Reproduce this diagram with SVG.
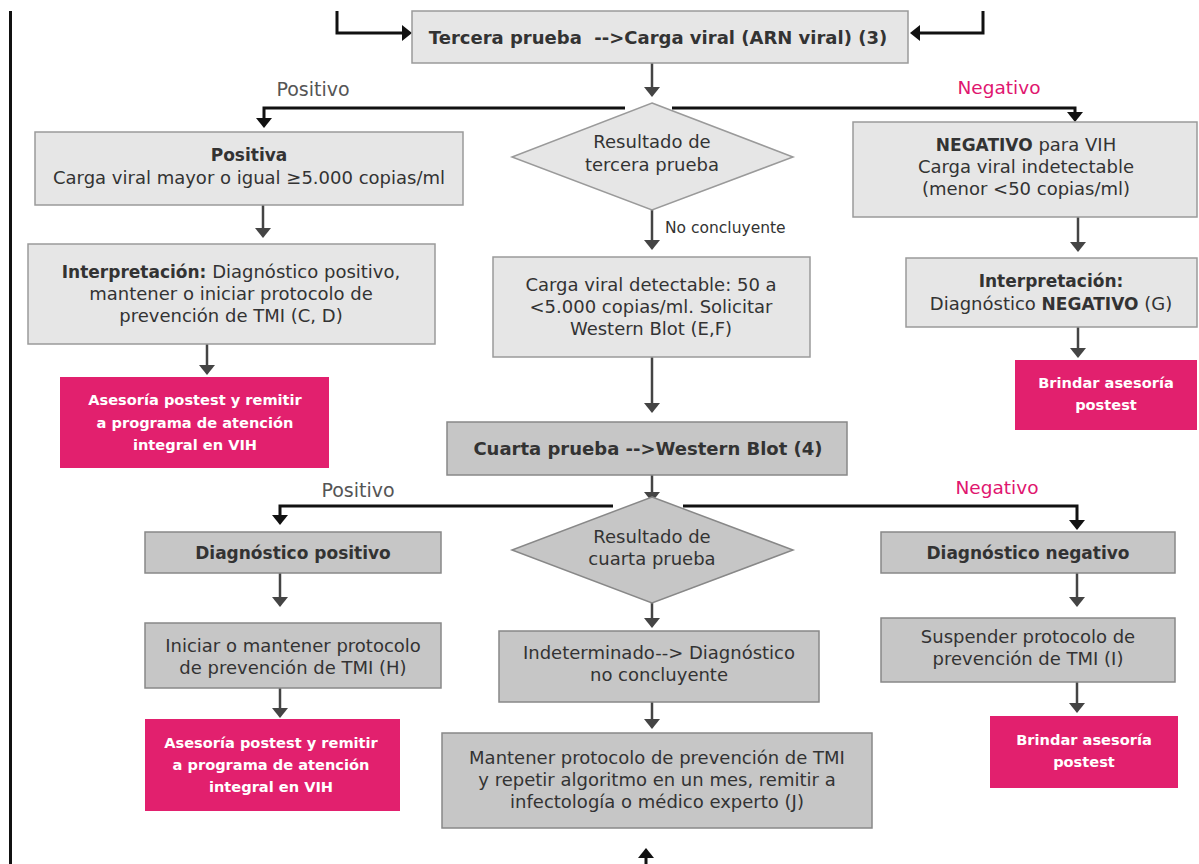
<svg xmlns="http://www.w3.org/2000/svg" width="1199" height="864" viewBox="0 0 1199 864">
  <defs>
    <style>
      text { font-family: "DejaVu Sans", "Open Sans", sans-serif; font-size: 18px; fill: #333; text-anchor: middle; }
      .b { font-weight: bold; font-size: 17px; }
      .big { font-size: 18px; font-weight: bold; }
      .wt { fill: #fff; font-size: 14.6px; font-weight: bold; }
      .lbl { font-size: 19px; fill: #555; }
      .neg { font-size: 18.5px; fill: #e0166f; }
      .sm { font-size: 15.5px; text-anchor: start; }
      .light { fill: #e6e6e6; stroke: #9a9a9a; stroke-width: 1.5; }
      .dark { fill: #c6c6c6; stroke: #888; stroke-width: 1.5; }
      .pink { fill: #e2206e; }
      .flow { fill: none; stroke: #444; stroke-width: 2.5; marker-end: url(#ah-gray); }
      .branch { fill: none; stroke: #111; stroke-width: 3; marker-end: url(#ah-black); }
    </style>
    <marker id="ah-gray" viewBox="0 0 10 16" refX="2" refY="8" markerWidth="10" markerHeight="16" markerUnits="userSpaceOnUse" orient="auto">
      <path d="M0,0 L10,8 L0,16 z" fill="#444"/>
    </marker>
    <marker id="ah-black" viewBox="0 0 10 16" refX="2" refY="8" markerWidth="10" markerHeight="16" markerUnits="userSpaceOnUse" orient="auto">
      <path d="M0,0 L10,8 L0,16 z" fill="#111"/>
    </marker>
  </defs>

  <rect width="1199" height="864" fill="#fff"/>

  <!-- connectors -->
  <g id="connectors">
    <line x1="10.5" y1="11" x2="10.5" y2="864" stroke="#111" stroke-width="3"/>
    <path class="branch" d="M337,11 V33 H404"/>
    <path class="branch" d="M983,11 V33 H918"/>
    <path class="flow" d="M652,63 V89"/>
    <path class="branch" d="M625,108 H264 V120"/>
    <path class="branch" d="M672,108 H1075 V114"/>
    <path class="flow" d="M263,205 V230"/>
    <path class="flow" d="M207,344 V367"/>
    <path class="flow" d="M652,210 V242"/>
    <path class="flow" d="M652,357 V405"/>
    <path class="flow" d="M1078,217 V244"/>
    <path class="flow" d="M1078,327 V350"/>
    <path class="flow" d="M652,475 V494"/>
    <path class="branch" d="M613,506 H280 V517"/>
    <path class="branch" d="M683,506 H1077 V522"/>
    <path class="flow" d="M280,573 V599"/>
    <path class="flow" d="M280,688 V710"/>
    <path class="flow" d="M652,590 V620"/>
    <path class="flow" d="M652,702 V721"/>
    <path class="flow" d="M1077,573 V599"/>
    <path class="flow" d="M1077,682 V705"/>
    <path class="branch" d="M646,864 V856"/>
  </g>

  <!-- branch labels -->
  <g id="labels">
    <text class="lbl" x="313" y="96">Positivo</text>
    <text class="neg" x="999" y="94">Negativo</text>
    <text class="sm" x="665" y="233">No concluyente</text>
    <text class="lbl" x="358" y="497">Positivo</text>
    <text class="neg" x="997" y="494">Negativo</text>
  </g>

  <g id="tercera">
    <rect class="light" x="412" y="11" width="496" height="52"/>
    <text class="big" x="658" y="44" xml:space="preserve">Tercera prueba  -->Carga viral (ARN viral) (3)</text>
  </g>

  <g id="resultado-tercera">
    <polygon class="light" points="652,103 793,157 652,210 512,157"/>
    <text x="652" y="148">Resultado de<tspan x="652" dy="23">tercera prueba</tspan></text>
  </g>

  <g id="positiva">
    <rect class="light" x="35" y="132" width="428" height="73"/>
    <text x="249" y="161"><tspan class="b">Positiva</tspan><tspan x="249" dy="23">Carga viral mayor o igual ≥5.000 copias/ml</tspan></text>
  </g>

  <g id="interpretacion-positiva">
    <rect class="light" x="28" y="244" width="407" height="100"/>
    <text x="231" y="278"><tspan class="b">Interpretación:</tspan> Diagnóstico positivo,<tspan x="231" dy="22">mantener o iniciar protocolo de</tspan><tspan x="231" dy="22">prevención de TMI (C, D)</tspan></text>
  </g>

  <g id="asesoria-1">
    <rect class="pink" x="60" y="377" width="269" height="91"/>
    <text class="wt" x="195" y="405">Asesoría postest y remitir<tspan x="195" dy="23">a programa de atención</tspan><tspan x="195" dy="22">integral en VIH</tspan></text>
  </g>

  <g id="carga-detectable">
    <rect class="light" x="493" y="257" width="317" height="100"/>
    <text x="651" y="291">Carga viral detectable: 50 a<tspan x="651" dy="22">&lt;5.000 copias/ml. Solicitar</tspan><tspan x="651" dy="22">Western Blot (E,F)</tspan></text>
  </g>

  <g id="negativo-vih">
    <rect class="light" x="853" y="122" width="344" height="95"/>
    <text x="1026" y="151"><tspan class="b">NEGATIVO</tspan> para VIH<tspan x="1026" dy="22">Carga viral indetectable</tspan><tspan x="1026" dy="22">(menor &lt;50 copias/ml)</tspan></text>
  </g>

  <g id="interpretacion-negativa">
    <rect class="light" x="906" y="258" width="291" height="69"/>
    <text x="1051" y="287"><tspan class="b">Interpretación:</tspan><tspan x="1051" dy="23">Diagnóstico </tspan><tspan class="b">NEGATIVO</tspan> (G)</text>
  </g>

  <g id="asesoria-2">
    <rect class="pink" x="1015" y="360" width="182" height="70"/>
    <text class="wt" x="1106" y="388">Brindar asesoría<tspan x="1106" dy="22">postest</tspan></text>
  </g>

  <g id="cuarta">
    <rect class="dark" x="447" y="422" width="400" height="53"/>
    <text class="big" x="648" y="455">Cuarta prueba -->Western Blot (4)</text>
  </g>

  <g id="resultado-cuarta">
    <polygon class="dark" points="652,497 793,550 652,603 512,550"/>
    <text x="652" y="543">Resultado de<tspan x="652" dy="22">cuarta prueba</tspan></text>
  </g>

  <g id="diagnostico-positivo">
    <rect class="dark" x="145" y="532" width="296" height="41"/>
    <text class="b" x="293" y="559">Diagnóstico positivo</text>
  </g>

  <g id="iniciar-protocolo">
    <rect class="dark" x="145" y="623" width="296" height="65"/>
    <text x="293" y="652">Iniciar o mantener protocolo<tspan x="293" dy="22">de prevención de TMI (H)</tspan></text>
  </g>

  <g id="asesoria-3">
    <rect class="pink" x="145" y="719" width="255" height="92"/>
    <text class="wt" x="271" y="748">Asesoría postest y remitir<tspan x="271" dy="22">a programa de atención</tspan><tspan x="271" dy="22">integral en VIH</tspan></text>
  </g>

  <g id="indeterminado">
    <rect class="dark" x="499" y="631" width="320" height="71"/>
    <text x="659" y="659">Indeterminado--> Diagnóstico<tspan x="659" dy="22">no concluyente</tspan></text>
  </g>

  <g id="mantener-protocolo">
    <rect class="dark" x="442" y="733" width="430" height="95"/>
    <text x="657" y="764">Mantener protocolo de prevención de TMI<tspan x="657" dy="22">y repetir algoritmo en un mes, remitir a</tspan><tspan x="657" dy="22">infectología o médico experto (J)</tspan></text>
  </g>

  <g id="diagnostico-negativo">
    <rect class="dark" x="881" y="532" width="294" height="41"/>
    <text class="b" x="1028" y="559">Diagnóstico negativo</text>
  </g>

  <g id="suspender-protocolo">
    <rect class="dark" x="881" y="618" width="294" height="64"/>
    <text x="1028" y="643">Suspender protocolo de<tspan x="1028" dy="22">prevención de TMI (I)</tspan></text>
  </g>

  <g id="asesoria-4">
    <rect class="pink" x="990" y="716" width="188" height="72"/>
    <text class="wt" x="1084" y="745">Brindar asesoría<tspan x="1084" dy="22">postest</tspan></text>
  </g>
</svg>
